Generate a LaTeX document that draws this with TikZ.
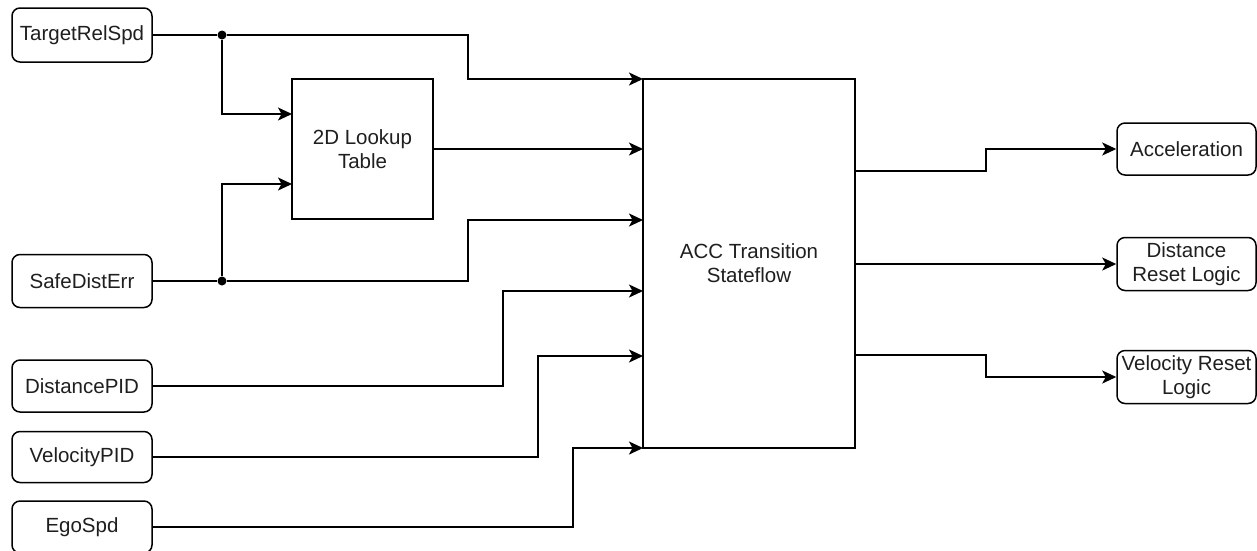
\documentclass[tikz,border=0pt]{standalone}
\usepackage{fontspec}
\setmainfont{Liberation Sans}
\usetikzlibrary{arrows.meta}
\begin{document}
\begin{tikzpicture}[x=1pt,y=-1pt,
  every node/.style={font=\fontsize{20.5}{24}\selectfont, text=black!88},
  rbox/.style={draw, rectangle, rounded corners=8pt, line width=1.5pt, align=center, inner sep=0pt},
  sbox/.style={draw, rectangle, line width=1.5pt, align=center, inner sep=0pt},
  wire/.style={line width=1.6pt},
  arr/.style={wire, -{Stealth[length=14pt, width=13pt, inset=3.5pt]}},
  dot/.style={circle, fill=black, inner sep=0pt, minimum size=9pt}
]
\useasboundingbox (0,0) rectangle (1257,550);
\clip (0,0) rectangle (1257,550);
\fill[white] (0,0) rectangle (1257,550);

% input boxes
\node[rbox, minimum width=140pt, minimum height=54pt] (tgt)  at (82,35)  {TargetRelSpd};
\node[rbox, minimum width=140pt, minimum height=53pt] (safe) at (82,281) {SafeDistErr};
\node[rbox, minimum width=140pt, minimum height=52pt] (dpid) at (82,386) {DistancePID};
\node[rbox, minimum width=140pt, minimum height=51pt] (vpid) at (82,457) {VelocityPID};
\node[rbox, minimum width=140pt, minimum height=52pt] (ego)  at (82,527) {EgoSpd};

% blocks
\node[sbox, minimum width=141pt, minimum height=140pt] (lut) at (362.5,149) {2D Lookup\\Table};
\node[sbox, minimum width=212pt, minimum height=369pt] (acc) at (749,263.5) {ACC Transition\\Stateflow};

% output boxes
\node[rbox, minimum width=139pt, minimum height=52pt] (accel) at (1186.5,149) {Acceleration};
\node[rbox, minimum width=139pt, minimum height=53pt] (drl)   at (1186.5,264) {Distance\\Reset Logic};
\node[rbox, minimum width=139pt, minimum height=53pt] (vrl)   at (1186.5,377) {Velocity Reset\\Logic};

% junctions
\node[dot] (j1) at (222,35) {};
\node[dot] (j2) at (222,281) {};

% ports on ACC
\coordinate (a1) at (643,79);
\coordinate (a2) at (643,149);
\coordinate (a3) at (643,220);
\coordinate (a4) at (643,291);
\coordinate (a5) at (643,356);
\coordinate (a6) at (643,448);
\coordinate (o1) at (855,171);
\coordinate (o3) at (855,355);
\coordinate (l1) at (292,114);
\coordinate (l2) at (292,184);

% inputs
\draw[wire] (tgt.east) -- (j1);
\draw[arr] (j1) -- (468,35) |- (a1);
\draw[arr] (j1) |- (l1);
\draw[wire] (safe.east) -- (j2);
\draw[arr] (j2) -- (468,281) |- (a3);
\draw[arr] (j2) |- (l2);
\draw[arr] (lut.east) -- (a2);
\draw[arr] (dpid.east) -- (503,386) |- (a4);
\draw[arr] (vpid.east) -- (538,457) |- (a5);
\draw[arr] (ego.east) -- (573,527) |- (a6);

% outputs
\draw[arr] (o1) -- (986,171) |- (accel.west);
\draw[arr] (acc.east |- drl.west) -- (drl.west);
\draw[arr] (o3) -- (986,355) |- (vrl.west);
\end{tikzpicture}
\end{document}
